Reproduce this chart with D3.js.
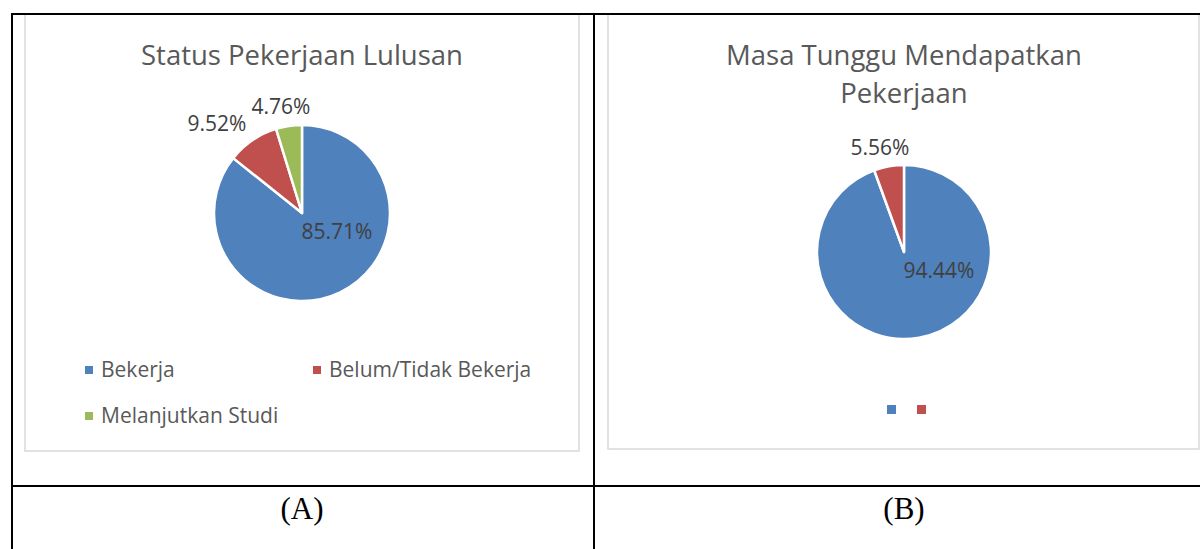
<!DOCTYPE html>
<html>
<head>
<meta charset="utf-8">
<script src="https://cdn.jsdelivr.net/npm/d3@7"></script>
<style>
  body { margin: 0; background: #fff; }
  svg { display: block; }
</style>
</head>
<body>
<script>
// Chart A data
const statusLabels = ['Bekerja', 'Belum/Tidak Bekerja', 'Melanjutkan Studi']
const statusValues = [85.71, 9.52, 4.76]
const statusTitle = ['Status Pekerjaan Lulusan']

// Chart B data (legend entries have no text)
const waitLabels = ['', '']
const waitValues = [94.44, 5.56]
const waitTitle = ['Masa Tunggu Mendapatkan', 'Pekerjaan']

const captions = ['(A)', '(B)']
const colors = ['#4F81BD', '#C0504D', '#9BBB59']

const width = 1200
const height = 549

const svg = d3.select('body').append('svg')
    .attr('width', width)
    .attr('height', height)

const font = "'Open Sans', 'Noto Sans', sans-serif"

// table cells
const cols = [12, 594, 1206]
const rows = [14, 486, 560]

// chart frames
const frames = [
    {x: 25, y: 14, w: 554, h: 437},
    {x: 608, y: 14, w: 591, h: 435}
]
svg.selectAll('rect.frame')
    .data(frames)
    .enter()
    .append('rect')
        .attr('class', 'frame')
        .attr('x', d => d.x)
        .attr('y', d => d.y)
        .attr('width', d => d.w)
        .attr('height', d => d.h)
        .attr('fill', '#fff')
        .attr('stroke', '#d9d9d9')
        .attr('stroke-width', 1.5)

// table lines
const lines = svg.append('g').attr('stroke', '#000').attr('stroke-width', 2)
rows.slice(0, 2).forEach(y => {
    lines.append('line').attr('x1', cols[0] - 1).attr('x2', width).attr('y1', y).attr('y2', y)
})
cols.slice(0, 2).forEach(x => {
    lines.append('line').attr('x1', x).attr('x2', x).attr('y1', rows[0]).attr('y2', height)
})

const pie = d3.pie().sort(null).value(d => d)

function drawPie(values, cx, cy, r, labelPos) {
    const g = svg.append('g').attr('transform', `translate(${cx}, ${cy})`)
    const arc = d3.arc().innerRadius(0).outerRadius(r)
    const arcs = pie(values)
    g.selectAll('path')
        .data(arcs)
        .enter()
        .append('path')
            .attr('d', arc)
            .attr('fill', (d, i) => colors[i])
            .attr('stroke', '#fff')
            .attr('stroke-width', 2.5)
            .attr('stroke-linejoin', 'round')
    g.selectAll('text')
        .data(arcs)
        .enter()
        .append('text')
            .attr('x', (d, i) => labelPos[i][0])
            .attr('y', (d, i) => labelPos[i][1])
            .attr('text-anchor', 'middle')
            .attr('font-family', font)
            .attr('font-size', 21)
            .attr('fill', '#404040')
            .text(d => d3.format('.2f')(d.value) + '%')
}

function drawTitle(lines, cx, y0, lh) {
    svg.append('g')
        .selectAll('text')
        .data(lines)
        .enter()
        .append('text')
            .attr('x', cx)
            .attr('y', (d, i) => y0 + i * lh)
            .attr('text-anchor', 'middle')
            .attr('font-family', font)
            .attr('font-size', 27.5)
            .attr('fill', '#595959')
            .text(d => d)
}

// Chart A
drawTitle(statusTitle, 302, 65, 38)
drawPie(statusValues, 302, 213, 88, [[35, 26], [-85, -82], [-21, -99]])

const legendA = [
    {x: 85, y: 370}, {x: 313, y: 370}, {x: 85, y: 416}
]
const lgA = svg.append('g')
lgA.selectAll('rect')
    .data(statusLabels)
    .enter()
    .append('rect')
        .attr('x', (d, i) => legendA[i].x)
        .attr('y', (d, i) => legendA[i].y - 4)
        .attr('width', 8)
        .attr('height', 8)
        .attr('fill', (d, i) => colors[i])
lgA.selectAll('text')
    .data(statusLabels)
    .enter()
    .append('text')
        .attr('x', (d, i) => legendA[i].x + 16)
        .attr('y', (d, i) => legendA[i].y + 7)
        .attr('font-family', font)
        .attr('font-size', 21)
        .attr('fill', '#595959')
        .text(d => d)

// Chart B
drawTitle(waitTitle, 904, 65, 38)
drawPie(waitValues, 904, 252, 87, [[35, 26], [-24, -97]])

svg.append('g')
    .selectAll('rect')
    .data(waitLabels)
    .enter()
    .append('rect')
        .attr('x', (d, i) => 887 + i * 30)
        .attr('y', 405)
        .attr('width', 9)
        .attr('height', 9)
        .attr('fill', (d, i) => colors[i])

// captions
svg.append('g')
    .selectAll('text')
    .data(captions)
    .enter()
    .append('text')
        .attr('x', (d, i) => i === 0 ? 302 : 904)
        .attr('y', 519)
        .attr('text-anchor', 'middle')
        .attr('font-family', "'Liberation Serif', serif")
        .attr('font-size', 31)
        .attr('fill', '#000')
        .text(d => d)
</script>
</body>
</html>
